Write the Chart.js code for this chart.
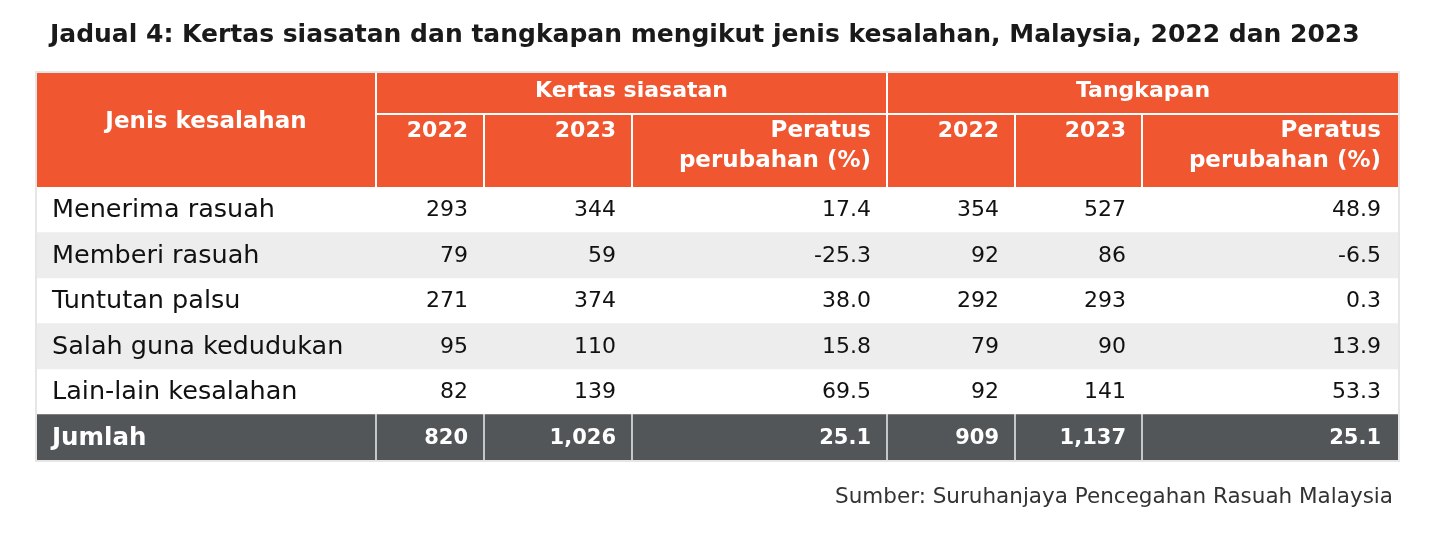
<!DOCTYPE html>
<html>
<head>
<meta charset="utf-8">
<script src="https://cdn.jsdelivr.net/npm/chart.js@4"></script>
<style>
  html, body { margin: 0; padding: 0; background: #fff; }
  #wrap { width: 1438px; height: 540px; position: relative; }
</style>
</head>
<body>
<div id="wrap"><canvas id="tableChart"></canvas></div>
<script>
'use strict'

const TITLE = 'Jadual 4: Kertas siasatan dan tangkapan mengikut jenis kesalahan, Malaysia, 2022 dan 2023';
const SOURCE = 'Sumber: Suruhanjaya Pencegahan Rasuah Malaysia';
const CATEGORIES = ['Menerima rasuah', 'Memberi rasuah', 'Tuntutan palsu', 'Salah guna kedudukan', 'Lain-lain kesalahan'];
const KS_2022 = [293, 79, 271, 95, 82];
const KS_2023 = [344, 59, 374, 110, 139];
const KS_PCT = [17.4, -25.3, 38.0, 15.8, 69.5];
const TK_2022 = [354, 92, 292, 79, 92];
const TK_2023 = [527, 86, 293, 90, 141];
const TK_PCT = [48.9, -6.5, 0.3, 13.9, 53.3];
const TOTAL_LABEL = 'Jumlah';
const TOTALS = [820, 1026, 25.1, 909, 1137, 25.1];
const GROUPS = ['Kertas siasatan', 'Tangkapan'];
const FIRST_HEADER = 'Jenis kesalahan';
const SUB_HEADERS = [['2022'], ['2023'], ['Peratus', 'perubahan (%)'], ['2022'], ['2023'], ['Peratus', 'perubahan (%)']];

// --- layout / style ---
const EDGES = [0, 340, 448, 596, 851, 979, 1106, 1361]; // column edges, table units
const GAP = 2;
const ORANGE = '#f05730';
const DARK = '#535658';
const STRIPE = '#ededed';
const BODY_FONT = '"DejaVu Sans", sans-serif';

const ROWS = CATEGORIES.concat([TOTAL_LABEL]);
const COLUMNS = [KS_2022, KS_2023, KS_PCT, TK_2022, TK_2023, TK_PCT];
const isPct = [false, false, true, false, false, true];

function fmt(v, pct) {
    return pct ? v.toFixed(1) : v.toLocaleString('en-US');
}

// striped rows
const stripeData = ROWS.map((r, i) => (i % 2 === 1 && i < CATEGORIES.length) ? [EDGES[0], EDGES[7]] : null);
// dark cells for the total row, one dataset per column
const totalSets = EDGES.slice(0, -1).map((e, c) => ({
    data: ROWS.map((r, i) => i === ROWS.length - 1 ? [e, c === 6 ? EDGES[c + 1] : EDGES[c + 1] - GAP] : null),
    backgroundColor: DARK,
    grouped: false,
    barPercentage: 1,
    categoryPercentage: 1
}));

const tablePlugin = {
    id: 'tableText',
    beforeDatasetsDraw(chart) {
        const ctx = chart.ctx;
        const x = chart.scales.x;
        const a = chart.chartArea;
        const top = a.top - 114;
        ctx.save();
        // outer light border
        ctx.strokeStyle = '#e6e6e6';
        ctx.lineWidth = 2;
        ctx.strokeRect(a.left - 1, top - 1, a.right - a.left + 2, a.bottom - top + 2);
        // header
        ctx.fillStyle = ORANGE;
        ctx.fillRect(a.left, top, a.right - a.left, a.top - top);
        ctx.fillStyle = '#fff';
        ctx.fillRect(x.getPixelForValue(EDGES[1]), top + 40, a.right - x.getPixelForValue(EDGES[1]), GAP);
        [1, 4].forEach(c => ctx.fillRect(x.getPixelForValue(EDGES[c] - GAP), top, GAP, a.top - top));
        [2, 3, 5, 6].forEach(c => ctx.fillRect(x.getPixelForValue(EDGES[c] - GAP), top + 42, GAP, a.top - top - 42));
        ctx.restore();
    },
    afterDatasetsDraw(chart) {
        const ctx = chart.ctx;
        const x = chart.scales.x;
        const y = chart.scales.y;
        const a = chart.chartArea;
        const top = a.top - 114;
        ctx.save();
        ctx.textBaseline = 'middle';

        // title
        ctx.fillStyle = '#1a1a1a';
        ctx.font = 'bold 25px ' + BODY_FONT;
        ctx.textAlign = 'left';
        ctx.fillText(TITLE, a.left + 13, 35);

        // header text
        ctx.fillStyle = '#fff';
        ctx.font = 'bold 23px ' + BODY_FONT;
        ctx.textAlign = 'center';
        ctx.fillText(FIRST_HEADER, (x.getPixelForValue(EDGES[0]) + x.getPixelForValue(EDGES[1] - GAP)) / 2, top + 49);
        ctx.font = 'bold 22px ' + BODY_FONT;
        ctx.fillText(GROUPS[0], (x.getPixelForValue(EDGES[1]) + x.getPixelForValue(EDGES[4] - GAP)) / 2, top + 18);
        ctx.fillText(GROUPS[1], (x.getPixelForValue(EDGES[4]) + x.getPixelForValue(EDGES[7])) / 2, top + 18);
        ctx.textAlign = 'right';
        SUB_HEADERS.forEach((lines, c) => {
            const xr = x.getPixelForValue(EDGES[c + 2]) - 17;
            ctx.font = 'bold ' + (lines.length > 1 ? 23 : 22) + 'px ' + BODY_FONT;
            lines.forEach((t, k) => ctx.fillText(t, xr, top + 58 + k * 30));
        });

        // body
        ROWS.forEach((label, i) => {
            const yc = y.getPixelForValue(i) + 1;
            const total = i === ROWS.length - 1;
            ctx.fillStyle = total ? '#fff' : '#111';
            ctx.font = (total ? 'bold 24.5px ' : '25.5px ') + BODY_FONT;
            ctx.textAlign = 'left';
            ctx.fillText(label, x.getPixelForValue(EDGES[0]) + 15, yc);
            ctx.font = (total ? 'bold 21px ' : '22px ') + BODY_FONT;
            ctx.textAlign = 'right';
            COLUMNS.forEach((col, c) => {
                const v = total ? TOTALS[c] : col[i];
                ctx.fillText(fmt(v, isPct[c]), x.getPixelForValue(EDGES[c + 2]) - 17, yc);
            });
        });

        // source
        ctx.fillStyle = '#333';
        ctx.font = '21.5px ' + BODY_FONT;
        ctx.textAlign = 'right';
        ctx.fillText(SOURCE, a.right - 5, 497);
        ctx.restore();
    }
};

new Chart(document.getElementById('tableChart'), {
    type: 'bar',
    data: {
        labels: ROWS,
        datasets: [{
            data: stripeData,
            backgroundColor: STRIPE,
            grouped: false,
            barPercentage: 1,
            categoryPercentage: 1
        }].concat(totalSets)
    },
    options: {
        indexAxis: 'y',
        responsive: true,
        maintainAspectRatio: false,
        animation: false,
        layout: { padding: { left: 37, right: 40, top: 187, bottom: 80 } },
        plugins: { legend: { display: false }, tooltip: { enabled: false } },
        scales: {
            x: { type: 'linear', min: EDGES[0], max: EDGES[7], display: false },
            y: { type: 'category', display: false, offset: true }
        }
    },
    plugins: [tablePlugin]
});
</script>
</body>
</html>
